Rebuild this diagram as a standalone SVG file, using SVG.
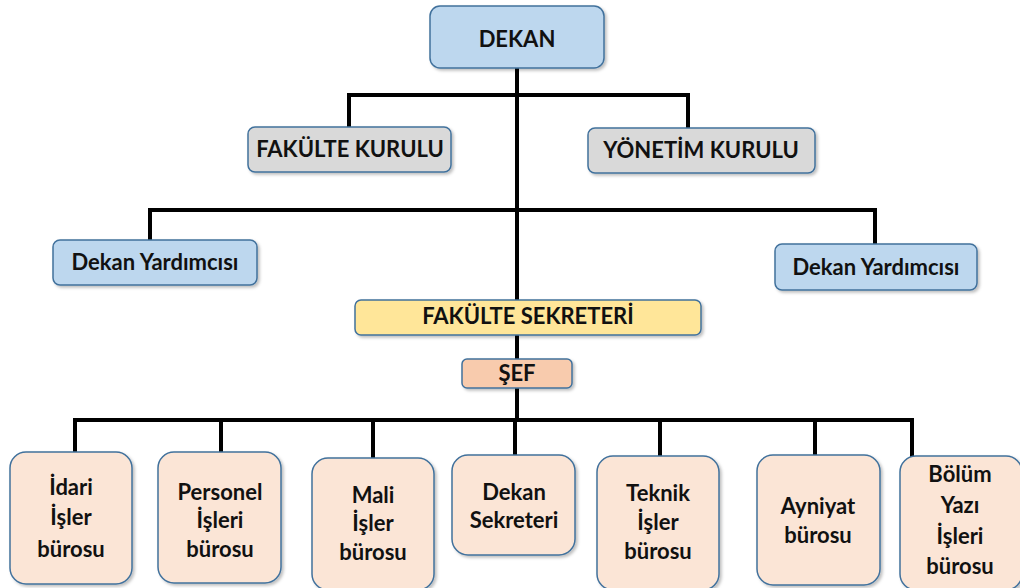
<svg xmlns="http://www.w3.org/2000/svg" width="1020" height="588" viewBox="0 0 1020 588">
<defs>
<filter id="sh" x="-10%" y="-10%" width="130%" height="130%">
<feDropShadow dx="2" dy="2" stdDeviation="1.5" flood-color="#000" flood-opacity="0.25"/>
</filter>
</defs>
<style>
.box{stroke:#41719C;stroke-width:1.5;filter:url(#sh)}
.blue{fill:#BDD7EE}
.grey{fill:#D9D9D9}
.yel{fill:#FFE699}
.sef{fill:#F8CBAD}
.peach{fill:#FBE5D6}
text{font-family:Lato,"Open Sans","Liberation Sans",sans-serif;font-weight:bold;fill:#111;text-anchor:middle;font-size:22px}
.ln{stroke:#000;stroke-width:4;fill:none}
</style>
<rect width="1020" height="588" fill="#fff"/>
<g id="connectors">
<path class="ln" d="M517 68 V420"/>
<path class="ln" d="M349 128 V95 H688 V128"/>
<path class="ln" d="M150 241 V210 H875 V245"/>
<path class="ln" d="M75 453 V420 H912 V457"/>
<path class="ln" d="M221 453 V420 M373 459 V420 M515 420 V456 M660 420 V457 M815 420 V456"/>
</g>
<g id="dekan"><rect class="box blue" x="430" y="6" width="174" height="62" rx="10"/><text x="517" y="47" font-size="23.5">DEKAN</text></g>
<g id="fakulte-kurulu"><rect class="box grey" x="248" y="127" width="203" height="45" rx="7"/><text x="350" y="157" font-size="20.5">FAKÜLTE KURULU</text></g>
<g id="yonetim-kurulu"><rect class="box grey" x="588" y="128" width="227" height="45" rx="7"/><text x="701" y="158" font-size="20.5">YÖNETİM KURULU</text></g>
<g id="dekan-yard-1"><rect class="box blue" x="53" y="240" width="204" height="45" rx="7"/><text x="155" y="270">Dekan Yardımcısı</text></g>
<g id="dekan-yard-2"><rect class="box blue" x="775" y="244" width="202" height="46" rx="7"/><text x="876" y="275">Dekan Yardımcısı</text></g>
<g id="fakulte-sekreteri"><rect class="box yel" x="355" y="300" width="346" height="35" rx="6"/><text x="528" y="324" font-size="18.3">FAKÜLTE SEKRETERİ</text></g>
<g id="sef"><rect class="box sef" x="462" y="359" width="110" height="29" rx="5"/><text x="517" y="381" font-size="19.5">ŞEF</text></g>
<g id="idari"><rect class="box peach" x="10" y="452" width="122" height="132" rx="16"/><text x="71" y="495">İdari</text><text x="71" y="525">İşler</text><text x="71" y="557">bürosu</text></g>
<g id="personel"><rect class="box peach" x="158" y="452" width="123" height="131" rx="16"/><text x="220" y="500">Personel</text><text x="220" y="528">İşleri</text><text x="220" y="557">bürosu</text></g>
<g id="mali"><rect class="box peach" x="312" y="458" width="122" height="132" rx="16"/><text x="373" y="503">Mali</text><text x="373" y="531">İşler</text><text x="373" y="560">bürosu</text></g>
<g id="dekan-sekreteri"><rect class="box peach" x="452" y="455" width="123" height="100" rx="16"/><text x="514" y="500">Dekan</text><text x="514" y="528">Sekreteri</text></g>
<g id="teknik"><rect class="box peach" x="597" y="456" width="122" height="134" rx="16"/><text x="658" y="501">Teknik</text><text x="658" y="530">İşler</text><text x="658" y="559">bürosu</text></g>
<g id="ayniyat"><rect class="box peach" x="757" y="455" width="123" height="130" rx="16"/><text x="818" y="514">Ayniyat</text><text x="818" y="543">bürosu</text></g>
<g id="bolum"><rect class="box peach" x="900" y="456" width="122" height="134" rx="16"/><text x="960" y="482">Bölüm</text><text x="960" y="513">Yazı</text><text x="960" y="544">İşleri</text><text x="960" y="574">bürosu</text></g>
</svg>
